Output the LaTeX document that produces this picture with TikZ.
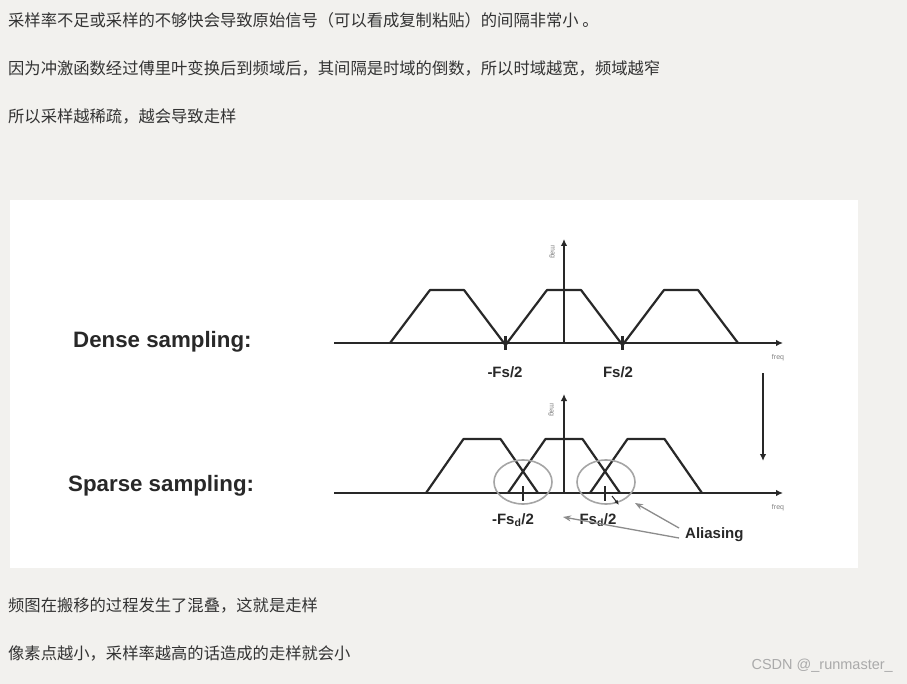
\documentclass[tikz,border=0pt]{standalone}
\usepackage{fontspec}
\setmainfont{Liberation Sans}
\newfontfamily\cjk{Noto Sans CJK SC}
\usetikzlibrary{arrows.meta}

\definecolor{pagebg}{RGB}{242,241,238}
\definecolor{ink}{RGB}{51,51,51}
\definecolor{plotink}{RGB}{40,40,40}
\definecolor{ringgray}{RGB}{165,165,165}
\definecolor{markgray}{RGB}{170,170,170}

\tikzset{
  cjkline/.style={anchor=west,inner sep=0pt,text=ink,font=\cjk\fontsize{16.3}{19}\selectfont},
  rowlabel/.style={anchor=west,inner sep=0pt,text=plotink,font=\bfseries\fontsize{22.3}{26}\selectfont},
  ticklabel/.style={inner sep=0pt,text=plotink,font=\bfseries\fontsize{15}{18}\selectfont},
  freqlabel/.style={inner sep=0pt,text=gray,font=\fontsize{7}{8}\selectfont},
  maglabel/.style={inner sep=0pt,text=gray,rotate=-90,font=\fontsize{7}{8}\selectfont},
  axis/.style={line width=2.6pt,draw=plotink,-{Latex[length=7pt,width=6.5pt]}},
  trap/.style={line width=2.2pt,draw=plotink,line join=round},
  tickmark/.style={line width=2.2pt,draw=plotink},
  ring/.style={line width=1.6pt,draw=ringgray},
  aliasarrow/.style={line width=1.3pt,draw=ringgray!85!black,-{Stealth[length=8pt,width=6pt]}}
}

\begin{document}
\begin{tikzpicture}[x=1pt,y=-1pt]
\useasboundingbox (0,0) rectangle (907,684);
\fill[pagebg] (0,0) rectangle (907,684);
\fill[white] (10,200) rectangle (858,568);

% text above and below the figure
\node[cjkline] (line1) at (8,20) {采样率不足或采样的不够快会导致原始信号（可以看成复制粘贴）的间隔非常小 。};
\node[cjkline] (line2) at (8,68) {因为冲激函数经过傅里叶变换后到频域后，其间隔是时域的倒数，所以时域越宽，频域越窄};
\node[cjkline] (line3) at (8,116) {所以采样越稀疏，越会导致走样};
\node[cjkline] (line4) at (8,605) {频图在搬移的过程发生了混叠，这就是走样};
\node[cjkline] (line5) at (8,653) {像素点越小，采样率越高的话造成的走样就会小};
\node[anchor=east,inner sep=0pt,text=markgray,font=\fontsize{14.5}{17}\selectfont] (mark) at (893,666) {CSDN @\_runmaster\_};

% dense sampling
\node[rowlabel] (dense) at (73,342) {Dense sampling:};
\draw[axis] (334,343) -- (783,343);
\draw[axis] (564,343) -- (564,239);
\foreach \c in {447,564,681}
  \draw[trap] (\c-57,343) -- (\c-17,290) -- (\c+17,290) -- (\c+57,343);
\foreach \t in {505.5,622.5} {
  \draw[tickmark] (\t,336) -- (\t,350);
  \fill[plotink] (\t,343) circle (2.6);
}
\node[ticklabel] (dneg) at (505,372) {-Fs/2};
\node[ticklabel] (dpos) at (618,372) {Fs/2};
\node[freqlabel] (dfreq) at (778,358) {freq};
\node[maglabel] (dmag) at (552,252) {mag};

% step down
\draw[axis,line width=2.2pt] (763,373) -- (763,461);

% sparse sampling
\node[rowlabel] (sparse) at (68,486) {Sparse sampling:};
\draw[axis] (334,493) -- (783,493);
\draw[axis] (564,493) -- (564,394);
\foreach \c in {482,564,646}
  \draw[trap] (\c-56,493) -- (\c-18.5,439) -- (\c+18.5,439) -- (\c+56,493);
\foreach \t in {523,605}
  \draw[tickmark] (\t,486) -- (\t,501);
\draw[ring] (523,482) ellipse [x radius=29,y radius=22];
\draw[ring] (606,482) ellipse [x radius=29,y radius=22];
\node[ticklabel] (sneg) at (513,520) {-Fs\textsubscript{d}/2};
\node[ticklabel] (spos) at (598,520) {Fs\textsubscript{d}/2};
\node[freqlabel] (sfreq) at (778,508) {freq};
\node[maglabel] (smag) at (551,410) {mag};

\node[ticklabel,anchor=west] (alias) at (685,535) {Aliasing};
\coordinate (ringtip) at (635,503);
\coordinate (labeltip) at (563,517);
\draw[aliasarrow] ([xshift=-6pt,yshift=7pt]alias.west) -- (ringtip);
\draw[aliasarrow] ([xshift=-6pt,yshift=-3pt]alias.west) -- (labeltip);
\coordinate (nibfrom) at (612,496);
\coordinate (nibto) at (619,505);
\draw[plotink,line width=1pt,-{Latex[length=5pt,width=4pt]}] (nibfrom) -- (nibto);
\end{tikzpicture}
\end{document}
